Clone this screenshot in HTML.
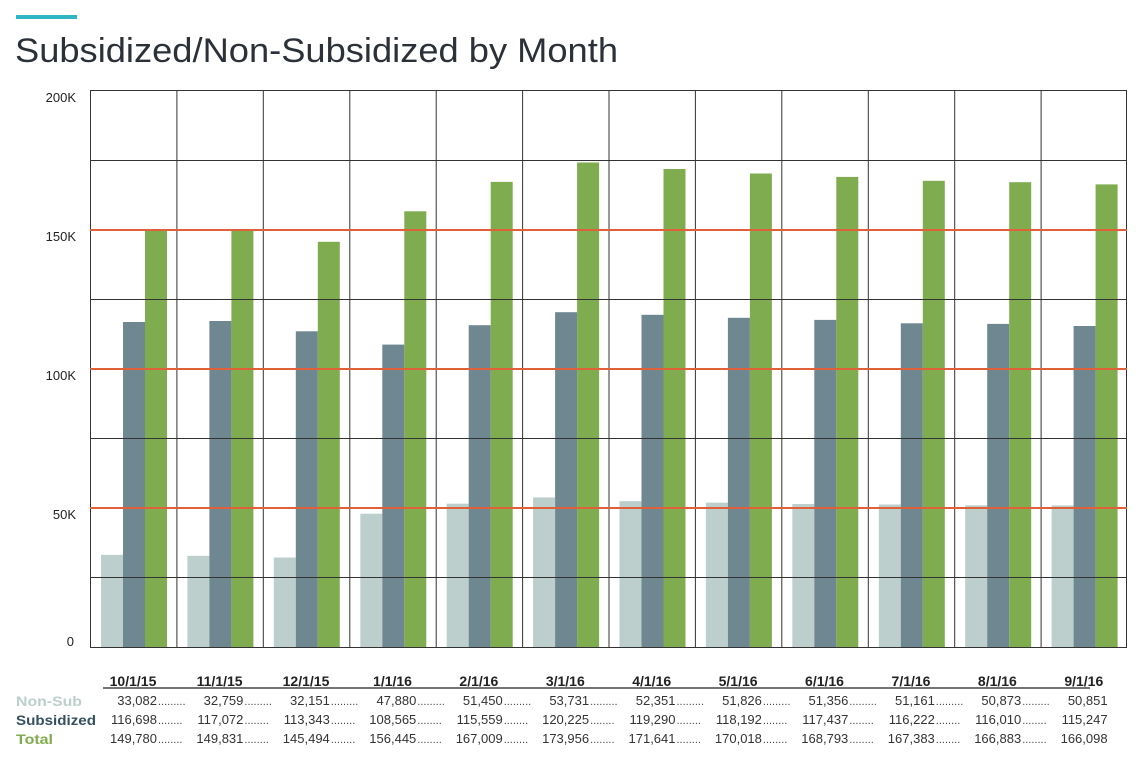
<!DOCTYPE html>
<html><head><meta charset="utf-8"><style>
body{margin:0;background:#fff;width:1143px;height:776px;overflow:hidden;font-family:"Liberation Sans",sans-serif}
</style></head><body>
<svg width="1143" height="776" xmlns="http://www.w3.org/2000/svg" font-family="Liberation Sans, sans-serif">
<rect x="16" y="15" width="61" height="4" fill="#2fb5c3"/>
<text x="15" y="62" font-size="34" fill="#2b3138" textLength="603" lengthAdjust="spacingAndGlyphs">Subsidized/Non-Subsidized by Month</text>
<g font-size="13" fill="#222" text-anchor="end">
<text x="76" y="102">200K</text><text x="76" y="241">150K</text><text x="76" y="380">100K</text><text x="76" y="519">50K</text><text x="74" y="646">0</text>
</g>
<g fill="#bccfcc">
<rect x="101" y="554.9" width="22" height="92.1"/><rect x="187.4" y="555.8" width="22" height="91.2"/><rect x="273.8" y="557.5" width="22" height="89.5"/><rect x="360.3" y="513.7" width="22" height="133.3"/><rect x="446.7" y="503.7" width="22" height="143.3"/><rect x="533.1" y="497.4" width="22" height="149.6"/><rect x="619.5" y="501.2" width="22" height="145.8"/><rect x="705.9" y="502.7" width="22" height="144.3"/><rect x="792.3" y="504" width="22" height="143"/><rect x="878.8" y="504.5" width="22" height="142.5"/><rect x="965.2" y="505.3" width="22" height="141.7"/><rect x="1051.6" y="505.4" width="22" height="141.6"/>
</g>
<g fill="#6f8791">
<rect x="123" y="322" width="22" height="325"/><rect x="209.4" y="321" width="22" height="326"/><rect x="295.8" y="331.3" width="22" height="315.7"/><rect x="382.3" y="344.6" width="22" height="302.4"/><rect x="468.7" y="325.2" width="22" height="321.8"/><rect x="555.1" y="312.2" width="22" height="334.8"/><rect x="641.5" y="314.8" width="22" height="332.2"/><rect x="727.9" y="317.8" width="22" height="329.2"/><rect x="814.3" y="319.9" width="22" height="327.1"/><rect x="900.8" y="323.3" width="22" height="323.7"/><rect x="987.2" y="323.9" width="22" height="323.1"/><rect x="1073.6" y="326" width="22" height="321"/>
</g>
<g fill="#7fac4f">
<rect x="145" y="229.9" width="22" height="417.1"/><rect x="231.4" y="229.7" width="22" height="417.3"/><rect x="317.8" y="241.8" width="22" height="405.2"/><rect x="404.3" y="211.3" width="22" height="435.7"/><rect x="490.7" y="181.9" width="22" height="465.1"/><rect x="577.1" y="162.5" width="22" height="484.5"/><rect x="663.5" y="169" width="22" height="478"/><rect x="749.9" y="173.5" width="22" height="473.5"/><rect x="836.3" y="176.9" width="22" height="470.1"/><rect x="922.8" y="180.8" width="22" height="466.2"/><rect x="1009.2" y="182.2" width="22" height="464.8"/><rect x="1095.6" y="184.4" width="22" height="462.6"/>
</g>
<g stroke="#333" stroke-width="1">
<line x1="90" y1="90.5" x2="1127" y2="90.5"/><line x1="90" y1="160.5" x2="1127" y2="160.5"/><line x1="90" y1="299.5" x2="1127" y2="299.5"/><line x1="90" y1="438.5" x2="1127" y2="438.5"/><line x1="90" y1="577.5" x2="1127" y2="577.5"/><line x1="90" y1="647.5" x2="1127" y2="647.5"/>
<line x1="90.5" y1="90" x2="90.5" y2="647"/><line x1="176.9" y1="90" x2="176.9" y2="647"/><line x1="263.3" y1="90" x2="263.3" y2="647"/><line x1="349.8" y1="90" x2="349.8" y2="647"/><line x1="436.2" y1="90" x2="436.2" y2="647"/><line x1="522.6" y1="90" x2="522.6" y2="647"/><line x1="609" y1="90" x2="609" y2="647"/><line x1="695.4" y1="90" x2="695.4" y2="647"/><line x1="781.8" y1="90" x2="781.8" y2="647"/><line x1="868.3" y1="90" x2="868.3" y2="647"/><line x1="954.7" y1="90" x2="954.7" y2="647"/><line x1="1041.1" y1="90" x2="1041.1" y2="647"/><line x1="1126.5" y1="90" x2="1126.5" y2="647"/>
</g>
<g stroke="#e0603a" stroke-width="2">
<line x1="90" y1="230" x2="1127" y2="230"/><line x1="90" y1="369" x2="1127" y2="369"/><line x1="90" y1="508" x2="1127" y2="508"/>
</g>
<line x1="103" y1="688" x2="1090" y2="688" stroke="#222" stroke-width="1.2"/>
<g font-size="14" font-weight="bold" fill="#222" text-anchor="middle">
<text x="133" y="686">10/1/15</text><text x="219.6" y="686">11/1/15</text><text x="306" y="686">12/1/15</text><text x="392.5" y="686">1/1/16</text><text x="478.9" y="686">2/1/16</text><text x="565.3" y="686">3/1/16</text><text x="651.7" y="686">4/1/16</text><text x="738.1" y="686">5/1/16</text><text x="824.5" y="686">6/1/16</text><text x="911" y="686">7/1/16</text><text x="997.4" y="686">8/1/16</text><text x="1083.8" y="686">9/1/16</text>
</g>
<g font-size="14" font-weight="bold">
<text x="16" y="706" fill="#bccfcc" textLength="66" lengthAdjust="spacingAndGlyphs">Non-Sub</text>
<text x="16" y="725" fill="#35505e" textLength="80" lengthAdjust="spacingAndGlyphs">Subsidized</text>
<text x="16" y="744" fill="#7fac4f" textLength="37" lengthAdjust="spacingAndGlyphs">Total</text>
</g>
<g font-size="13" fill="#333" text-anchor="end">
<text y="705"><tspan x="157">33,082</tspan><tspan x="243.4">32,759</tspan><tspan x="329.8">32,151</tspan><tspan x="416.3">47,880</tspan><tspan x="502.7">51,450</tspan><tspan x="589.1">53,731</tspan><tspan x="675.5">52,351</tspan><tspan x="761.9">51,826</tspan><tspan x="848.3">51,356</tspan><tspan x="934.8">51,161</tspan><tspan x="1021.2">50,873</tspan><tspan x="1107.6">50,851</tspan></text>
<text y="724"><tspan x="157">116,698</tspan><tspan x="243.4">117,072</tspan><tspan x="329.8">113,343</tspan><tspan x="416.3">108,565</tspan><tspan x="502.7">115,559</tspan><tspan x="589.1">120,225</tspan><tspan x="675.5">119,290</tspan><tspan x="761.9">118,192</tspan><tspan x="848.3">117,437</tspan><tspan x="934.8">116,222</tspan><tspan x="1021.2">116,010</tspan><tspan x="1107.6">115,247</tspan></text>
<text y="743"><tspan x="157">149,780</tspan><tspan x="243.4">149,831</tspan><tspan x="329.8">145,494</tspan><tspan x="416.3">156,445</tspan><tspan x="502.7">167,009</tspan><tspan x="589.1">173,956</tspan><tspan x="675.5">171,641</tspan><tspan x="761.9">170,018</tspan><tspan x="848.3">168,793</tspan><tspan x="934.8">167,383</tspan><tspan x="1021.2">166,883</tspan><tspan x="1107.6">166,098</tspan></text>
</g>
<g font-size="11" fill="#444">
<text y="705"><tspan x="158">.........</tspan><tspan x="244.4">.........</tspan><tspan x="330.8">.........</tspan><tspan x="417.3">.........</tspan><tspan x="503.7">.........</tspan><tspan x="590.1">.........</tspan><tspan x="676.5">.........</tspan><tspan x="762.9">.........</tspan><tspan x="849.3">.........</tspan><tspan x="935.8">.........</tspan><tspan x="1022.2">.........</tspan></text>
<text y="724"><tspan x="158">........</tspan><tspan x="244.4">........</tspan><tspan x="330.8">........</tspan><tspan x="417.3">........</tspan><tspan x="503.7">........</tspan><tspan x="590.1">........</tspan><tspan x="676.5">........</tspan><tspan x="762.9">........</tspan><tspan x="849.3">........</tspan><tspan x="935.8">........</tspan><tspan x="1022.2">........</tspan></text>
<text y="743"><tspan x="158">........</tspan><tspan x="244.4">........</tspan><tspan x="330.8">........</tspan><tspan x="417.3">........</tspan><tspan x="503.7">........</tspan><tspan x="590.1">........</tspan><tspan x="676.5">........</tspan><tspan x="762.9">........</tspan><tspan x="849.3">........</tspan><tspan x="935.8">........</tspan><tspan x="1022.2">........</tspan></text>
</g>
</svg>
</body></html>
